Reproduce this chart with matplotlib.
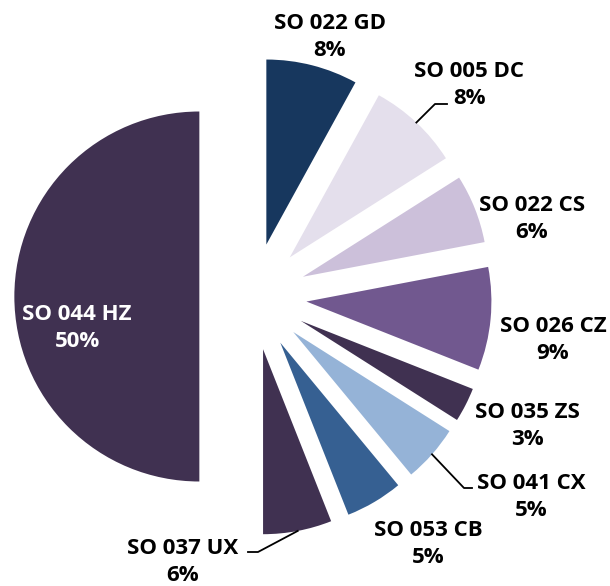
import numpy as np
import matplotlib
matplotlib.use("Agg")
import matplotlib.pyplot as plt

# slices, clockwise from the top
names = ["SO 022 GD", "SO 005 DC", "SO 022 CS", "SO 026 CZ", "SO 035 ZS",
         "SO 041 CX", "SO 053 CB", "SO 037 UX", "SO 044 HZ"]
shares = [8, 8, 6, 9, 3, 5, 5, 6, 50]
colors = ["#17375e", "#e4dfec", "#ccc0da", "#71588f", "#403151",
          "#95b3d7", "#366092", "#403151", "#403151"]

# where the labels sit, in pixels of the 610x586 picture (centre of text block)
label_px = [(330, 37), (469, 85), (532, 219), (553, 340), (527, 426),
            (531, 497), (428, 544), (183, 562), (77, 328)]
# labels that get a leader line: index -> elbow point and end point (pixels)
leaders = {1: [(435, 104), (447, 104)],
           5: [(464, 488), (472, 488)],
           7: [(258, 552), (248, 552)]}

W, H = 610, 586
cx, cy, R = 253, 296.5, 185.0   # pie centre and radius in pixels

def px(x, y):
    return (x - cx) / R, (cy - y) / R

plt.rcParams['font.family'] = ['Open Sans', 'DejaVu Sans']

fig = plt.figure(figsize=(W / 100, H / 100), dpi=100)
ax = fig.add_axes([0, 0, 1, 1])

wedges, _ = ax.pie(shares, colors=colors, startangle=90, counterclock=False,
                   explode=[0.29] * len(shares), radius=1.0,
                   wedgeprops=dict(linewidth=0))

for i, (w, name, s) in enumerate(zip(wedges, names, shares)):
    x, y = px(*label_px[i])
    col = "white" if i == len(names) - 1 else "black"
    ax.text(x, y, f"{name}\n{s}%", ha="center", va="center", fontsize=16,
            fontweight="bold", color=col, linespacing=1.4)
    if i in leaders:
        mid = np.deg2rad((w.theta1 + w.theta2) / 2)
        x0 = w.center[0] + w.r * np.cos(mid)
        y0 = w.center[1] + w.r * np.sin(mid)
        pts = [(x0, y0)] + [px(*p) for p in leaders[i]]
        ax.plot([p[0] for p in pts], [p[1] for p in pts], color="black", lw=1.3)

ax.set_xlim(-cx / R, (W - cx) / R)
ax.set_ylim(-(H - cy) / R, cy / R)
ax.set_aspect("auto")
ax.axis("off")

fig.savefig("out.png", dpi=100, facecolor="white")
